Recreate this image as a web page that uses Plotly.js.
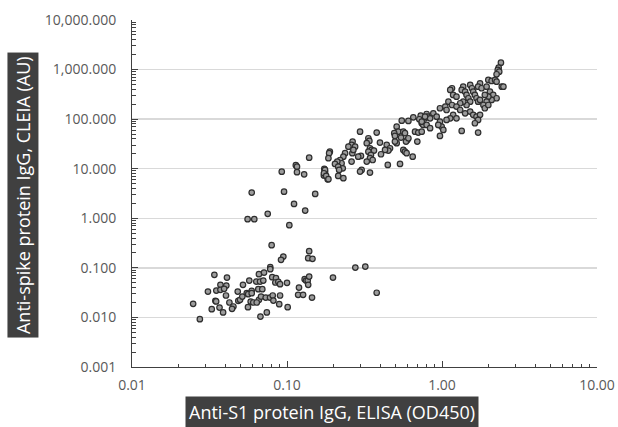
<!DOCTYPE html>
<html>
<head>
<meta charset="utf-8">
<script src="https://cdn.plot.ly/plotly-3.0.1.min.js"></script>
<style>html,body{margin:0;padding:0;background:#fff;}#chart{width:618px;height:427px;}</style>
</head>
<body>
<div id="chart"></div>
<script>
// Anti-S1 protein IgG, ELISA (OD450) vs Anti-spike protein IgG, CLEIA (AU)
const highX = [0.139,0.114,0.116,0.0925,0.116,0.129,0.174,0.176,0.173,0.183,0.0592,0.0957,0.152,0.111,0.131,0.0751,0.0557,0.0615,0.1035,
0.796,0.809,0.777,0.729,0.714,0.74,0.757,0.653,0.607,0.55,0.51,0.522,0.492,0.497,0.67,0.703,0.74,0.563,0.577,0.544,0.597,0.586,0.607,0.693,0.296,0.379,0.335,0.34,0.327,0.265,0.261,0.249,0.275,0.398,0.44,0.462,0.451,0.429,0.51,0.497,0.563,0.577,0.591,0.647,0.536,0.447,0.404,0.343,0.352,0.364,0.335,0.348,0.343,0.357,0.327,0.3,0.288,0.264,0.268,0.237,0.231,0.22,0.225,0.211,0.204,0.214,0.229,0.217,0.261,0.189,0.187,0.185,0.176,0.173,0.179,0.185,0.214,0.231,0.303,0.296,0.343,
2.40,2.32,2.29,2.34,2.25,1.99,2.09,2.20,2.25,2.43,2.49,1.76,1.71,1.80,1.94,1.52,1.56,1.37,1.34,1.41,1.16,1.13,1.18,1.24,1.59,1.63,1.67,1.71,1.76,1.44,1.48,1.52,1.44,1.37,1.31,2.04,2.14,2.25,2.09,1.99,1.89,1.94,1.85,1.89,1.99,1.10,1.16,1.24,1.05,0.97,1.07,1.31,1.41,1.52,1.59,1.67,1.76,1.71,1.63,1.18,1.24,1.13,1.07,0.879,0.924,0.838,0.777,0.97,0.995,0.946,1.02,0.74,0.796,0.838,0.97,1.34,1.71];
const highY = [16.7,11.8,11.0,8.7,8.5,7.7,9.9,8.5,7.3,6.1,3.3,3.45,3.1,1.95,1.43,1.23,0.96,0.96,0.726,
127,112,104,118,99.5,82.6,76.4,109,92,93.3,70.6,56,52,45.8,56,53.5,56,56,52,42.4,38.1,35.2,41.2,35.2,56,53.5,41.2,36.3,32.7,35.2,30.2,27.9,27.9,33.6,30.2,25.9,23.2,23.9,32.7,35.2,23.9,22.1,20.6,17.5,12.5,11.9,19.6,25.9,23.9,23.2,22.1,19,16.3,15,13.9,18.1,17.5,20.6,23.9,20.6,17.5,15,12.9,13.9,12.5,11,10.2,9.46,13.9,22.1,20.6,16.3,9.46,8.1,7.16,6.14,7.16,6.43,9.46,8.75,8.34,
1377,1091,982,908,804,617,589,617,570,452,452,529,452,420,452,489,420,452,388,358,420,388,308,284,358,308,264,225,244,308,264,225,193,225,209,358,308,264,244,284,308,225,193,166,193,225,193,179,179,166,153,153,131,142,122,112,122,96.4,82.6,122,104,104,96.4,131,112,104,112,89.1,70.6,76.4,60.5,89.1,76.4,65.6,45.8,57.8,53.5];
const lowX = [0.0796,0.139,0.0947,0.137,0.146,0.0915,0.034,0.041,0.078,0.078,0.0659,0.0711,0.0803,0.0849,0.0571,0.052,0.0372,0.0406,0.035,0.0372,0.0393,0.0404,0.0309,0.0481,0.0634,0.067,0.0703,0.0841,0.0879,0.0902,0.1,0.0653,0.0693,0.0592,0.055,0.0562,0.0592,0.0485,0.0498,0.0515,0.0659,0.0583,0.0606,0.0638,0.068,0.0729,0.0777,0.0809,0.0902,0.0817,0.0891,0.1195,0.13,0.1327,0.136,0.139,0.137,0.118,0.127,0.145,0.198,0.276,0.32,0.379,0.0248,0.0345,0.0349,0.0425,0.0451,0.0442,0.0327,0.0367,0.0387,0.056,0.101,0.0741,0.0674,0.0274];
const lowY = [0.287,0.217,0.169,0.157,0.152,0.145,0.0723,0.0637,0.1033,0.094,0.0746,0.0804,0.0649,0.0619,0.0554,0.0454,0.0454,0.044,0.0348,0.036,0.0377,0.0277,0.0333,0.0333,0.053,0.053,0.0555,0.0506,0.0522,0.0469,0.0499,0.0372,0.0372,0.0344,0.0309,0.0295,0.0309,0.0216,0.0226,0.0264,0.0226,0.0209,0.02,0.02,0.0264,0.0252,0.0252,0.0277,0.0277,0.0219,0.0185,0.0401,0.0592,0.0555,0.0555,0.0668,0.0454,0.0286,0.0286,0.0252,0.0637,0.1014,0.106,0.0315,0.0188,0.0216,0.021,0.02,0.0166,0.0149,0.0147,0.0158,0.0126,0.0161,0.0161,0.0126,0.0104,0.0092];

const xTitle = "Anti-S1 protein IgG, ELISA (OD450)";
const yTitle = "Anti-spike protein IgG, CLEIA (AU)";

const markerStyle = {symbol: 'circle', size: 5.5, color: '#9c9c9c', line: {color: '#2e2e2e', width: 1.2}};

const traces = [
  {x: lowX.concat(highX), y: lowY.concat(highY), type: 'scatter', mode: 'markers', marker: markerStyle, hoverinfo: 'x+y'}
];

const tickFont = {family: 'Open Sans, Liberation Sans, sans-serif', size: 14, color: '#595959'};
const titleFont = {family: 'Open Sans, Liberation Sans, sans-serif', size: 18, color: '#ffffff'};

const layout = {
  width: 618, height: 427,
  margin: {l: 132, r: 21, t: 20, b: 60},
  paper_bgcolor: '#ffffff', plot_bgcolor: '#ffffff',
  showlegend: false,
  xaxis: {
    type: 'log', range: [-2, 1], tickmode: 'linear', tick0: 0, dtick: 1,
    tickformat: ',.2f', tickfont: tickFont,
    showgrid: false, zeroline: false,
    showline: true, linecolor: '#404040', linewidth: 1,
    ticks: 'inside', ticklen: 6, tickcolor: '#404040', tickwidth: 1,
    ticklabelstandoff: 5,
    minor: {ticks: 'inside', ticklen: 3, tickcolor: '#404040', dtick: 'D1', showgrid: false}
  },
  yaxis: {
    type: 'log', range: [-3, 4], tickmode: 'linear', tick0: 0, dtick: 1,
    tickformat: ',.3f', tickfont: tickFont,
    showgrid: true, gridcolor: '#d9d9d9', gridwidth: 1.5, zeroline: false,
    showline: true, linecolor: '#404040', linewidth: 1,
    ticks: 'inside', ticklen: 6, tickcolor: '#404040', tickwidth: 1,
    ticklabelstandoff: 12,
    minor: {ticks: 'inside', ticklen: 4, tickcolor: '#404040', dtick: 'D1', showgrid: false}
  },
  annotations: [
    {text: xTitle, xref: 'paper', yref: 'paper', x: 0.43, y: -0.13, xanchor: 'center', yanchor: 'middle',
     showarrow: false, bgcolor: '#404040', borderpad: 3, font: titleFont},
    {text: yTitle, xref: 'paper', yref: 'paper', x: -0.2355, y: 0.497, xanchor: 'center', yanchor: 'middle',
     textangle: -90, showarrow: false, bgcolor: '#404040', borderpad: 3, font: titleFont}
  ]
};

Plotly.newPlot('chart', traces, layout, {displayModeBar: false, staticPlot: true});
</script>
</body>
</html>
